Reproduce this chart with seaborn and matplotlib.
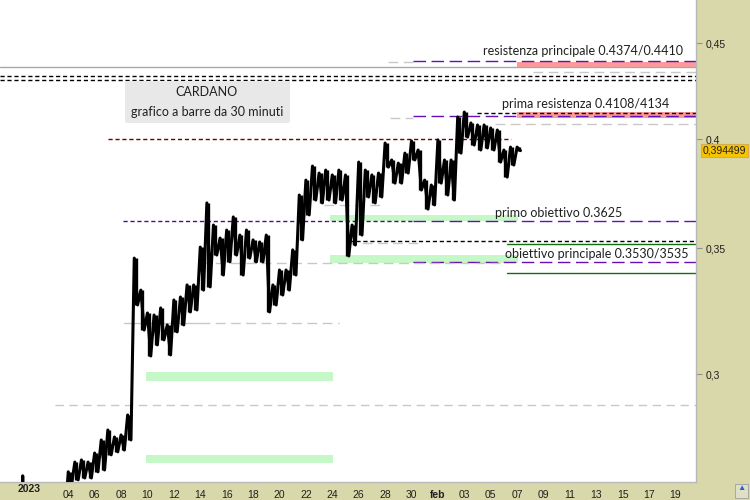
import matplotlib
matplotlib.use('Agg')
import matplotlib.pyplot as plt
import matplotlib.patches as mpatches
from matplotlib.ticker import FixedLocator, NullLocator, NullFormatter
import seaborn as sns
import pandas as pd

sns.set_theme(style='white')
plt.rcParams['font.family'] = ['Liberation Sans', 'DejaVu Sans']

# days counted from 1 Jan 2023 (0 = 1 Jan); half-day bars from 4 Jan
start_day = 3.0
highs = [0.2661, 0.2693, 0.2700, 0.2693, 0.2723, 0.2767, 0.2801, 0.2777, 0.2784, 0.2853,
         0.3458, 0.3325, 0.3233, 0.3225, 0.3253, 0.3186, 0.3285, 0.3297, 0.3346, 0.3346,
         0.3505, 0.3700, 0.3601, 0.3544, 0.3579, 0.3637, 0.3557, 0.3579, 0.3536, 0.3527,
         0.3557, 0.3346, 0.3408, 0.3408, 0.3493, 0.3736, 0.3805, 0.3871, 0.3838, 0.3852,
         0.3829, 0.3852, 0.3829, 0.3601, 0.3890, 0.3852, 0.3829, 0.3838, 0.3982, 0.3900,
         0.3885, 0.3933, 0.3992, 0.3948, 0.3805, 0.3782, 0.3997, 0.3900, 0.3900, 0.4111,
         0.4136, 0.4081, 0.4071, 0.4071, 0.4056, 0.4046, 0.3948, 0.3962, 0.3962]
lows = [0.2619, 0.2635, 0.2641, 0.2641, 0.2661, 0.2667, 0.2717, 0.2727, 0.2733, 0.2767,
        0.3265, 0.3166, 0.3067, 0.3109, 0.3128, 0.3071, 0.3159, 0.3186, 0.3237, 0.3245,
        0.3325, 0.3338, 0.3471, 0.3387, 0.3442, 0.3471, 0.3387, 0.3458, 0.3442, 0.3442,
        0.3237, 0.3265, 0.3305, 0.3325, 0.3387, 0.3536, 0.3646, 0.3713, 0.3700, 0.3713,
        0.3700, 0.3713, 0.3467, 0.3514, 0.3557, 0.3727, 0.3700, 0.3727, 0.3866, 0.3791,
        0.3791, 0.3838, 0.3900, 0.3759, 0.3672, 0.3691, 0.3791, 0.3736, 0.3713, 0.3933,
        0.4011, 0.3972, 0.3948, 0.3958, 0.3948, 0.3890, 0.3819, 0.3876, 0.394499]
# first bars of the year, mostly below the visible range
lead_days = [-2.5, -0.47, -0.45, -0.42, 2.9]
lead_prices = [0.2550, 0.2585, 0.2648, 0.2580, 0.2600]
last_price = 0.394499

y_ticks = [0.3, 0.35, 0.4, 0.45]
y_tick_labels = ['0,3', '0,35', '0,4', '0,45']
x_ticks = list(range(-1, 50, 2))
x_tick_labels = ['', '', '04', '06', '08', '10', '12', '14', '16', '18', '20', '22', '24',
                 '26', '28', '30', 'feb', '03', '05', '07', '09', '11', '13', '15', '17', '19']

# support / resistance levels
res_main = (0.4372, 0.4400)
res_first = (0.4108, 0.4134)
target_first = (0.3620, 0.3645)
target_main = (0.3437, 0.3471)
old_zone_hi = (0.2976, 0.3006)
old_zone_lo = (0.2690, 0.2717)

days = list(lead_days)
prices = list(lead_prices)
bar_days = []
for i, (h, l) in enumerate(zip(highs, lows)):
    d = start_day + 0.5 * i
    days += [d, d + 0.25]
    prices += [h, l]
    bar_days.append(d + 0.12)
df = pd.DataFrame({'day': days, 'price': prices})
bars = pd.DataFrame({'day': bar_days, 'high': highs, 'low': lows})

x0, x1 = -2.17, 50.55
bg = '#d8d8aa'
purple = '#6410b4'
lgray = '#c8c8c8'
green = '#c6f7c6'
salmon = '#ff9898'

fig = plt.figure(figsize=(7.5, 5), dpi=100, facecolor=bg)
ax = fig.add_axes([0, 18 / 500, 696 / 750, 482 / 500])
ax.set_facecolor('white')


def level(p, d0, d1, color, dashes=None, lw=1.0):
    line, = ax.plot([d0, d1], [p, p], color=color, lw=lw, zorder=2)
    if dashes:
        line.set_dashes(dashes)


def zone(lohi, d0, d1, color):
    ax.fill_between([d0, d1], lohi[0], lohi[1], color=color, lw=0, zorder=1)


# zones
zone(res_main, 37.0, x1, salmon)
zone(res_first, 37.0, x1, salmon)
zone(target_first, 22.8, 37.07, green)
zone(target_main, 22.8, 37.07, green)
zone(old_zone_hi, 8.9, 23.05, green)
zone(old_zone_lo, 8.9, 23.05, green)

# top lines
level(0.4372, x0, x1, '#a8a8a8')
level(0.4344, 38.2, x1, lgray, (7, 4))
level(0.4325, x0, x1, 'black', (3, 2))
level(0.4304, x0, x1, 'black', (3, 2))
level(0.4396, 27.2, 29.1, lgray, (7, 4))
level(0.4402, 29.1, x1, purple, (9, 4))
# prima resistenza
level(0.4131, 33.96, x1, 'black', (3, 2))
level(0.4116, 29.1, x1, purple, (9, 4))
level(0.4106, 27.4, 29.1, lgray, (7, 4))
level(0.4076, 35.3, x1, lgray, (7, 4))
level(0.4000, 6.0, 36.5, '#700000', (3, 2))
# obiettivi
level(0.3691, 22.4, 27.0, lgray, (7, 4))
level(0.3621, 7.15, 29.1, '#48107c', (3, 2))
level(0.3621, 29.1, x1, purple, (9, 4))
level(0.3530, 24.3, x1, 'black', (3, 2))
level(0.3522, 24.1, 29.6, lgray, (7, 4))
level(0.3518, 36.2, x1, '#107010')
level(0.3442, 29.1, x1, purple, (9, 4))
level(0.3437, 13.0, 36.0, lgray, (7, 4))
level(0.3395, 36.2, x1, '#107010')
level(0.3194, 7.2, 13.0, lgray)
level(0.3194, 13.0, 23.5, lgray, (7, 4))
level(0.2888, 2.0, x1, lgray, (6, 4))

# price: half-day ranges plus the path between them
ax.vlines(bars['day'], bars['low'], bars['high'], color='black', lw=2.4, zorder=3)
sns.lineplot(data=df, x='day', y='price', color='black', lw=2.2,
             estimator=None, sort=False, ax=ax, zorder=3)

ax.set_yscale('log')
ax.set_xlim(x0, x1)
ax.set_ylim(0.2628, 0.4745)
ax.set_xlabel('')
ax.set_ylabel('')

ax.yaxis.tick_right()
ax.yaxis.set_major_locator(FixedLocator(y_ticks))
ax.set_yticklabels(y_tick_labels)
ax.yaxis.set_minor_locator(NullLocator())
ax.yaxis.set_minor_formatter(NullFormatter())
ax.set_xticks(x_ticks)
ax.set_xticklabels(x_tick_labels)
ax.tick_params(axis='both', which='major', direction='out', length=4, width=0.8,
               color='#909090', labelsize=7.5, labelcolor='#202020', pad=2)
ax.tick_params(axis='y', pad=3)
for lab in ax.get_xticklabels():
    if lab.get_text() == 'feb':
        lab.set_fontweight('bold')
ax.text(0, -0.005, '2023', transform=ax.get_xaxis_transform(), ha='center', va='top',
        fontsize=7.5, fontweight='bold', color='#202020')

for side in ['top', 'left']:
    ax.spines[side].set_visible(False)
for side in ['right', 'bottom']:
    ax.spines[side].set_color('#b8b8b8')
    ax.spines[side].set_linewidth(1.0)

# last price marker
ax.annotate('0,394499', xy=(1.0, last_price), xycoords=('axes fraction', 'data'),
            xytext=(5, 0), textcoords='offset points', ha='left', va='center',
            fontsize=7.5, color='#202020', annotation_clip=False,
            bbox=dict(boxstyle='square,pad=0.15', fc='#f6c400', ec='#d8b040', lw=0.8))

# annotations
note_font = ['Lato', 'DejaVu Sans']
ax.text(483 / 696, 1 - 51 / 482, 'resistenza principale 0.4374/0.4410', transform=ax.transAxes,
        ha='left', va='center', fontsize=9, family=note_font, color='#202020')
ax.text(502 / 696, 1 - 104 / 482, 'prima resistenza 0.4108/4134', transform=ax.transAxes,
        ha='left', va='center', fontsize=9, family=note_font, color='#202020')
ax.text(495 / 696, 1 - 213 / 482, 'primo obiettivo 0.3625', transform=ax.transAxes,
        ha='left', va='center', fontsize=9, family=note_font, color='#202020')
ax.text(505 / 696, 1 - 254 / 482, 'obiettivo principale 0.3530/3535', transform=ax.transAxes,
        ha='left', va='center', fontsize=9, family=note_font, color='#202020')

ax.add_patch(mpatches.FancyBboxPatch((125 / 696, 1 - 123 / 482), 165 / 696, 42 / 482,
                                     boxstyle='round,pad=0,rounding_size=0.004',
                                     transform=ax.transAxes, fc='#e8e8e8', ec='none', zorder=4))
ax.text(207 / 696, 1 - 92 / 482, 'CARDANO', transform=ax.transAxes, ha='center', va='center',
        fontsize=9, family=note_font, color='#202020', zorder=5)
ax.text(207 / 696, 1 - 112 / 482, 'grafico a barre da 30 minuti', transform=ax.transAxes,
        ha='center', va='center', fontsize=9, family=note_font, color='#202020', zorder=5)

# small corner button
fig.patches.append(mpatches.Rectangle((735 / 750, 2 / 500), 13 / 750, 14 / 500,
                                      transform=fig.transFigure, fc='#e0e0c8',
                                      ec='#a0a0a0', lw=0.6))
fig.text(741.5 / 750, 11 / 500, '▲', ha='center', va='center', fontsize=6, color='#2a62c8')

fig.savefig('out.png', dpi=100, facecolor=bg)
